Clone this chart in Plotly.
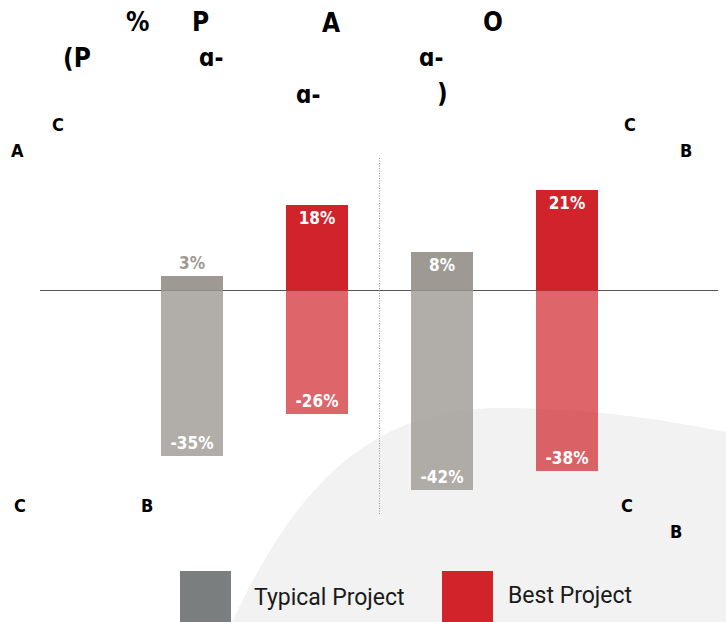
import plotly.graph_objects as go

# ---- data ----
series = ["Typical Project", "Best Project"]
typical_x = [0, 2]
best_x = [1, 3]
typical_up = [3, 8]
typical_down = [-35, -42]
best_up = [18, 21]
best_down = [-26, -38]

# scattered title / corner text fragments (as rendered in the reference)
fragments = ["%", "P", "A", "O", "(P", "ɑ-", "ɑ-", "ɑ-", ")",
             "C", "A", "C", "B", "C", "B", "C", "B"]
fragment_pos = [(137, 22), (200, 22), (331, 23), (493, 22),
                (77, 58), (211, 58), (431, 58), (308, 95), (442, 93),
                (58, 124), (17, 150), (630, 124), (686, 150),
                (20, 505), (147, 505), (627, 505), (676, 531)]
fragment_size = [26, 26, 26, 26, 26, 24, 24, 24, 26,
                 18, 18, 18, 18, 18, 18, 18, 18]

W, H = 726, 622
ML, MR = 40, 8


def X(px):
    return (px - ML) / (W - ML - MR)


def Y(py):
    return 1 - py / H


GRAY_TOP = "#9e9a93"
GRAY_BOT = "rgba(158,154,147,0.8)"
RED_TOP = "#d0232b"
RED_BOT = "rgba(208,35,43,0.7)"
LABEL_FONT = dict(family="DejaVu Sans Condensed, Liberation Sans Narrow, Arial Narrow",
                  size=17, color="white", weight="bold")

fig = go.Figure()


def add_bars(x, y, color, outside_color):
    fig.add_trace(go.Bar(
        x=x, y=y, width=0.5, marker=dict(color=color, line=dict(width=0)),
        text=[f"{v}%" for v in y], textposition="auto", insidetextanchor="end",
        textangle=0, constraintext="none",
        textfont=LABEL_FONT,
        insidetextfont=LABEL_FONT,
        outsidetextfont=dict(LABEL_FONT, color=outside_color),
        showlegend=False, hoverinfo="skip", cliponaxis=False))


add_bars(typical_x, typical_up, GRAY_TOP, GRAY_TOP)
add_bars(typical_x, typical_down, GRAY_BOT, GRAY_TOP)
add_bars(best_x, best_up, RED_TOP, RED_TOP)
add_bars(best_x, best_down, RED_BOT, RED_TOP)

shapes = []
# light grey background swoosh
pts = [(232, 622), (290, 500), (360, 408), (500, 408), (600, 408), (680, 423), (726, 432)]
p = [(X(a), Y(b)) for a, b in pts]
path = (f"M {p[0][0]},{p[0][1]} C {p[1][0]},{p[1][1]} {p[2][0]},{p[2][1]} {p[3][0]},{p[3][1]} "
        f"C {p[4][0]},{p[4][1]} {p[5][0]},{p[5][1]} {p[6][0]},{p[6][1]} "
        f"L {X(726)},{Y(622)} Z")
shapes.append(dict(type="path", path=path, xref="paper", yref="paper",
                   fillcolor="#f2f2f2", line=dict(width=0), layer="below"))
# dotted divider
shapes.append(dict(type="line", xref="x", yref="paper", x0=1.5, x1=1.5,
                   y0=Y(158), y1=Y(515), line=dict(color="#999999", width=1, dash="1px,1.5px")))
# legend squares
legend_colors = ["#7b7e7f", "#d2232b"]
legend_sq_x = [180, 442]
legend_txt_x = [252, 506]
for c, sx in zip(legend_colors, legend_sq_x):
    shapes.append(dict(type="rect", xref="paper", yref="paper",
                       x0=X(sx), x1=X(sx + 51), y0=Y(571), y1=Y(622),
                       fillcolor=c, line=dict(width=0)))

annotations = []
for name, tx, ty in zip(series, legend_txt_x, [597, 595]):
    annotations.append(dict(text=name, xref="paper", yref="paper", x=X(tx), y=Y(ty),
                            xanchor="left", yanchor="middle", showarrow=False,
                            font=dict(family="Roboto, Noto Sans, sans-serif", size=23, color="#1a1a1a")))
for t, (fx, fy), s in zip(fragments, fragment_pos, fragment_size):
    annotations.append(dict(text=t, xref="paper", yref="paper", x=X(fx), y=Y(fy),
                            xanchor="center", yanchor="middle", showarrow=False,
                            font=dict(family="DejaVu Sans Condensed, Liberation Sans", size=s,
                                      color="black", weight="bold")))

# px per percent ~4.75, zero line at y=290
scale = 4.75
fig.update_layout(
    width=W, height=H, margin=dict(l=ML, r=MR, t=0, b=0),
    paper_bgcolor="white", plot_bgcolor="rgba(0,0,0,0)",
    barmode="overlay", bargap=0,
    xaxis=dict(range=[-1.216, 4.208], visible=False, fixedrange=True),
    yaxis=dict(range=[-(H - 290) / scale, 290 / scale], showgrid=False, showticklabels=False,
               zeroline=True, zerolinecolor="#555555", zerolinewidth=1, fixedrange=True),
    shapes=shapes, annotations=annotations, hovermode=False,
)

fig.write_html("out.html", config={"displayModeBar": False},
               post_script="document.body.style.margin='0';")
